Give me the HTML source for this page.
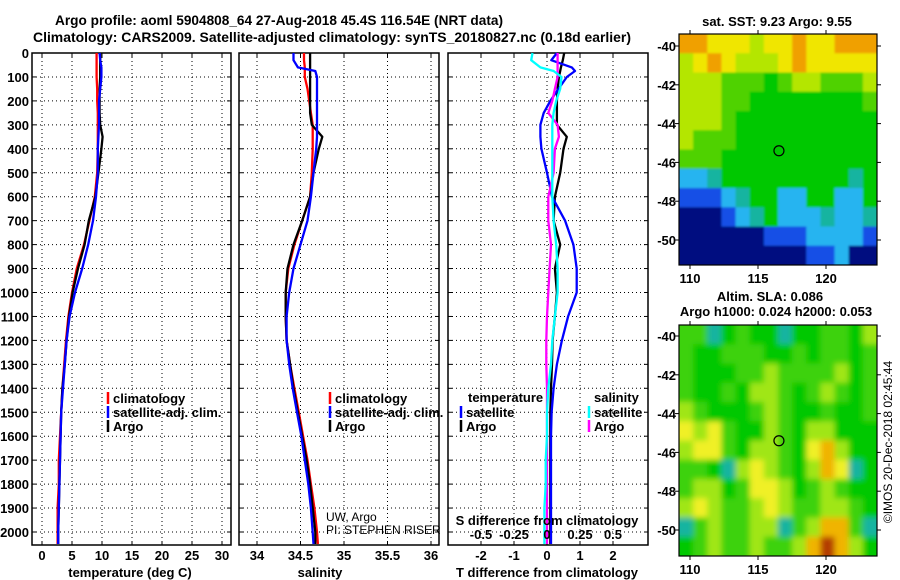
<!DOCTYPE html>
<html><head><meta charset="utf-8">
<style>
html,body{margin:0;padding:0;background:#fff;}
svg{display:block;font-family:"Liberation Sans",Arial,sans-serif;}
.b{font-weight:bold;font-size:13px;}
</style></head>
<body>
<svg id="c" width="900" height="580" viewBox="0 0 900 580" xmlns="http://www.w3.org/2000/svg">
<defs>
<filter id="blurS" x="-5%" y="-5%" width="110%" height="110%"><feGaussianBlur stdDeviation="1"/></filter>
<filter id="blurL" x="-5%" y="-5%" width="110%" height="110%"><feGaussianBlur stdDeviation="3"/></filter>
<clipPath id="clip1"><rect x="679" y="34" width="198" height="231"/></clipPath>
<clipPath id="clip2"><rect x="679" y="325" width="198" height="231"/></clipPath>
</defs>
<text x="279" y="25" text-anchor="middle" font-size="14" font-weight="bold" textLength="448" lengthAdjust="spacingAndGlyphs">Argo profile: aoml 5904808_64 27-Aug-2018 45.4S 116.54E (NRT data)</text>
<text x="332" y="42" text-anchor="middle" font-size="14" font-weight="bold" textLength="598" lengthAdjust="spacingAndGlyphs">Climatology: CARS2009. Satellite-adjusted climatology: synTS_20180827.nc (0.18d earlier)</text>
<g id="g"></g>
</svg>
<script>
// ---- data ----
const depths = [0,30,60,75,100,150,200,250,300,350,400,500,600,700,800,900,1000,1100,1200,1300,1400,1500,1600,1700,1800,1900,2000,2050];
const tClim = [9.1,9.1,9.1,9.1,9.1,9.2,9.2,9.3,9.3,9.3,9.3,9.2,8.8,7.9,7.0,5.8,5.0,4.4,4.0,3.7,3.4,3.2,3.0,2.8,2.8,2.6,2.6,2.6];
const tSat  = [9.6,9.7,9.9,9.9,9.9,9.7,9.5,9.5,9.5,9.4,9.3,9.3,9.0,8.5,7.7,6.7,5.5,4.6,4.1,3.8,3.5,3.2,3.1,3.0,2.9,2.8,2.7,2.7];
const tArgo = [9.7,9.7,9.7,9.7,9.7,9.6,9.6,9.6,9.7,10.1,9.9,9.4,8.9,7.8,7.1,6.0,5.1,4.5,4.1,3.8,3.4,3.2,3.1,3.0,2.9,2.8,2.7,2.7];
const sClim = [34.54,34.54,34.55,34.55,34.55,34.58,34.60,34.62,34.64,34.64,34.64,34.63,34.61,34.52,34.43,34.36,34.33,34.33,34.34,34.38,34.43,34.48,34.53,34.58,34.62,34.66,34.69,34.70];
const sSat  = [34.42,34.42,34.47,34.67,34.69,34.69,34.69,34.69,34.69,34.69,34.68,34.65,34.62,34.58,34.50,34.42,34.37,34.34,34.34,34.37,34.41,34.46,34.51,34.55,34.59,34.62,34.64,34.65];
const sArgo = [34.61,34.61,34.61,34.61,34.61,34.61,34.61,34.61,34.63,34.75,34.71,34.65,34.61,34.52,34.42,34.35,34.33,34.33,34.34,34.38,34.42,34.47,34.52,34.57,34.61,34.64,34.67,34.67];
const dTSat  = [0.30,0.13,0.75,0.85,0.60,0.35,0.10,-0.10,-0.20,-0.20,-0.17,0.0,0.15,0.55,0.80,0.90,0.90,0.64,0.45,0.30,0.20,0.14,0.12,0.12,0.12,0.12,0.12,0.12];
const dTArgo = [0.52,0.48,0.42,0.40,0.36,0.32,0.30,0.30,0.30,0.60,0.50,0.40,0.24,0.20,0.40,0.24,0.30,0.24,0.17,0.15,0.12,0.10,0.10,0.10,0.10,0.10,0.10,0.10];
const dSSat  = [-0.11,-0.12,-0.05,0.05,0.11,0.10,0.07,0.05,0.04,0.04,0.04,0.04,0.04,0.05,0.07,0.08,0.08,0.06,0.04,0.03,0.01,0.0,0.0,-0.01,-0.01,-0.02,-0.02,-0.02];
const dSArgo = [0.08,0.08,0.08,0.08,0.08,0.06,0.04,0.01,0.08,0.09,0.06,0.05,0.01,0.01,0.03,0.02,0.01,0.0,-0.005,-0.005,0.0,0.0,0.0,0.0,0.0,0.0,0.0,0.0];
const depthTicks = [0,100,200,300,400,500,600,700,800,900,1000,1100,1200,1300,1400,1500,1600,1700,1800,1900,2000];
const tTicks = [0,5,10,15,20,25,30];
const sTicks = [34,34.5,35,35.5,36];
const sTickLabels = ["34","34.5","35","35.5","36"];
const dtTicks = [-2,-1,0,1,2];
const dsTicks = [-0.5,-0.25,0,0.25,0.5];
const dsTickLabels = ["-0.5","-0.25","0","0.25","0.5"];
const lonTicks = [110,115,120];
const latTicks = [-40,-42,-44,-46,-48,-50];
const sstGrid = [
"88777677877888","67876667877777","66655545665556","66655444444445",
"66654444444444","65554444444444","55544444444444","22344444444434",
"11123442244224","00012342223223","00000011122221","00000000011200"];
const slaGrid = [
"55345443445546","54455544545545","54445565555645","54454665456545",
"65444565445445","76754465466444","67754665478644","55436765468734",
"56645776456544","67655676556654","35655663568853","45655655689864"];
const palette = ["#000a80","#1450e6","#28b4f0","#14b4a0","#00c800","#50d200","#b4e600","#f0e600","#f0a000","#c05000"];
const slaPalette = ["#000a80","#1450e6","#28b4f0","#14b4a0","#00c800","#3cd20a","#a0e614","#f0f028","#f0b400","#b43c00"];
const argoLon = 116.54, argoLat = -45.4;

// ---- helpers ----
const NS="http://www.w3.org/2000/svg";
const G=document.getElementById('g');
function el(tag,attrs,parent){const e=document.createElementNS(NS,tag);for(const k in attrs)e.setAttribute(k,attrs[k]);(parent||G).appendChild(e);return e;}
function txt(x,y,s,attrs,parent){const t=el('text',Object.assign({x:x,y:y},attrs||{}),parent);t.textContent=s;return t;}
const yTop=53, yPer=0.2395, yBot=545;
function yD(d){return yTop+d*yPer;}

function panel(name,x0,x1,xs,vticks,hticks){
  const g=el('g',{});
  
  
  vticks.forEach(v=>{const l=el('line',{x1:xs(v),x2:xs(v),y1:yTop,y2:yBot,stroke:'#000','stroke-width':1,'stroke-dasharray':'1,3'},g);
    });
  hticks.forEach(d=>{const l=el('line',{x1:x0,x2:x1,y1:yD(d),y2:yD(d),stroke:'#000','stroke-width':1,'stroke-dasharray':'1,3'},g);
    
    el('line',{x1:x0,x2:x0+4,y1:yD(d),y2:yD(d),stroke:'#000'},g);el('line',{x1:x1-4,x2:x1,y1:yD(d),y2:yD(d),stroke:'#000'},g);});
  vticks.forEach(v=>{el('line',{x1:xs(v),x2:xs(v),y1:yBot-4,y2:yBot,stroke:'#000'},g);el('line',{x1:xs(v),x2:xs(v),y1:yTop,y2:yTop+4,stroke:'#000'},g);});
  const r=el('rect',{x:x0,y:yTop,width:x1-x0,height:yBot-yTop,fill:'none',stroke:'#000','stroke-width':1.5},g);
  
  return g;
}
function line(g,vals,xs,color,name,w){
  const pts=depths.map((d,i)=>xs(vals[i]).toFixed(1)+','+yD(d).toFixed(1)).join(' ');
  const p=el('polyline',{points:pts,fill:'none',stroke:color,'stroke-width':w||2.3,'stroke-linejoin':'round'},g);
  
}
function legendItem(g,x,y,color,label,name){
  const l=el('line',{x1:x,x2:x,y1:y-11,y2:y+1,stroke:color,'stroke-width':2.5},g);
  
  const t=txt(x+5,y,label,{class:'b'},g);
  
}

// ---- panel 1 temperature ----
const xT=v=>42+6*v;
const p1=panel('temperature-panel',32,231,xT,tTicks,depthTicks);
depthTicks.forEach(d=>{const t=txt(29,yD(d)+5,String(d),{class:'b','text-anchor':'end'});
  });
tTicks.forEach(v=>{const t=txt(xT(v),560,String(v),{class:'b','text-anchor':'middle'});
  });
line(p1,tClim,xT,'#ff0000','temperature-climatology-line');
line(p1,tArgo,xT,'#000','temperature-argo-line');
line(p1,tSat,xT,'#0000ff','temperature-satellite-line');
legendItem(p1,108,403,'#ff0000','climatology','legend-climatology');
legendItem(p1,108,417,'#0000ff','satellite-adj. clim.','legend-satellite');
legendItem(p1,108,431,'#000','Argo','legend-argo');
let t1=txt(130,577,'temperature (deg C)',{class:'b','text-anchor':'middle'});


// ---- panel 2 salinity ----
const xS=v=>257+87*(v-34);
const p2=panel('salinity-panel',239,439,xS,sTicks,depthTicks);
sTicks.forEach((v,i)=>{const t=txt(xS(v),560,sTickLabels[i],{class:'b','text-anchor':'middle'});
  });
line(p2,sClim,xS,'#ff0000','salinity-climatology-line');
line(p2,sArgo,xS,'#000','salinity-argo-line');
line(p2,sSat,xS,'#0000ff','salinity-satellite-line');
legendItem(p2,330,403,'#ff0000','climatology','legend-climatology');
legendItem(p2,330,417,'#0000ff','satellite-adj. clim.','legend-satellite');
legendItem(p2,330,431,'#000','Argo','legend-argo');
let u1=txt(326,521,'UW, Argo',{'font-size':12});
let u2=txt(326,534,'PI: STEPHEN RISER',{'font-size':12});
let t2=txt(320,577,'salinity',{class:'b','text-anchor':'middle'});


// ---- panel 3 differences ----
const xDT=v=>547+33*v;
const xDS=v=>547+132*v;
const p3=panel('difference-panel',448,648,xDT,dtTicks,depthTicks);
dtTicks.forEach(v=>{const t=txt(xDT(v),560,String(v),{class:'b','text-anchor':'middle'});
  });
dsTicks.forEach((v,i)=>{const t=txt(xDS(v),539,dsTickLabels[i],{class:'b','text-anchor':'middle'});
  });
line(p3,dTArgo,xDT,'#000','t-diff-argo-line');
line(p3,dTSat,xDT,'#0000ff','t-diff-satellite-line');
line(p3,dSArgo,xDS,'#ff00ff','s-diff-argo-line');
line(p3,dSSat,xDS,'#00ffff','s-diff-satellite-line');
let lt=txt(468,402,'temperature',{class:'b'});
legendItem(p3,461,417,'#0000ff','satellite','legend-t-satellite');
legendItem(p3,461,431,'#000','Argo','legend-t-argo');
let ls=txt(594,402,'salinity',{class:'b'});
legendItem(p3,589,417,'#00ffff','satellite','legend-s-satellite');
legendItem(p3,589,431,'#ff00ff','Argo','legend-s-argo');
let sd=txt(547,525,'S difference from climatology',{class:'b','text-anchor':'middle'});

let td=txt(547,577,'T difference from climatology',{class:'b','text-anchor':'middle'});


// ---- maps ----
function map(name,grid,pal,y0,y1,lat40y,lat50y,clipId,filt){
  const x0=679,x1=877;
  const g=el('g',{});
  
  const lonX=v=>690+(v-110)*13.6;
  const latY=v=>lat40y+(-40-v)*(lat50y-lat40y)/10;
  const rows=grid.length,cols=grid[0].length;
  const cw=(x1-x0)/cols,ch=(y1-y0)/rows;
  const cg=el('g',{'clip-path':'url(#'+clipId+')'},g);
  const bg=el('g',{filter:'url(#'+filt+')'},cg);
  for(let r=-1;r<=rows;r++)for(let c=-1;c<=cols;c++){
    const rr=Math.min(rows-1,Math.max(0,r)),cc=Math.min(cols-1,Math.max(0,c));
    const k=+grid[rr][cc];
    const cell=el('rect',{x:(x0+c*cw).toFixed(2),y:(y0+r*ch).toFixed(2),width:(cw+0.6).toFixed(2),height:(ch+0.6).toFixed(2),fill:pal[k]},bg);
    
  }
  const fr=el('rect',{x:x0,y:y0,width:x1-x0,height:y1-y0,fill:'none',stroke:'#000','stroke-width':1.2},g);
  
  lonTicks.forEach(v=>{el('line',{x1:lonX(v),x2:lonX(v),y1:y0-4,y2:y0,stroke:'#000'},g);el('line',{x1:lonX(v),x2:lonX(v),y1:y1,y2:y1+4,stroke:'#000'},g);
    const t=txt(lonX(v),y1+18,String(v),{class:'b','text-anchor':'middle'},g);});
  latTicks.forEach(v=>{el('line',{x1:x0-4,x2:x0,y1:latY(v),y2:latY(v),stroke:'#000'},g);el('line',{x1:x1,x2:x1+4,y1:latY(v),y2:latY(v),stroke:'#000'},g);
    const t=txt(x0-3,latY(v)+5,String(v),{class:'b','text-anchor':'end'},g);});
  const m=el('circle',{cx:lonX(argoLon),cy:latY(argoLat),r:5,fill:'none',stroke:'#000','stroke-width':1.2},g);
  
}
map('sst-map',sstGrid,palette,34,265,46,240,'clip1','blurS');
map('sla-map',slaGrid,slaPalette,325,556,336,530,'clip2','blurL');
let m1=txt(777,26,'sat. SST: 9.23 Argo: 9.55',{class:'b','text-anchor':'middle'});
let m2=txt(770,301,'Altim. SLA: 0.086',{class:'b','text-anchor':'middle'});
let m3=txt(776,316,'Argo h1000: 0.024 h2000: 0.053',{class:'b','text-anchor':'middle'});
let cr=txt(0,0,'©IMOS 20-Dec-2018 02:45:44',{'font-size':12,'text-anchor':'middle',transform:'translate(892,442) rotate(-90)'});

</script>
</body></html>
